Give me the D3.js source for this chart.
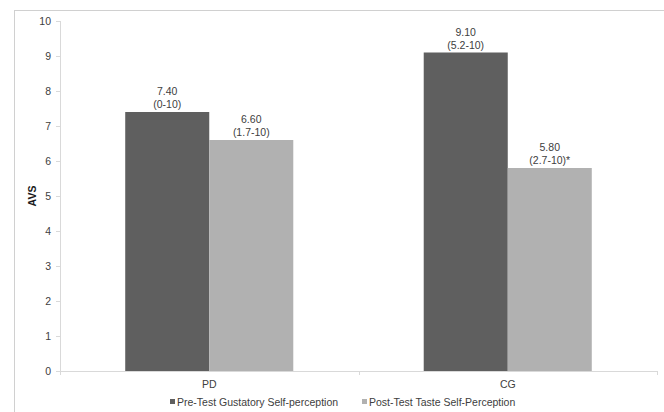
<!DOCTYPE html>
<html><head><meta charset="utf-8">
<script src="https://cdn.jsdelivr.net/npm/d3@7"></script>
<style>html,body{margin:0;padding:0;background:#fff;}svg{display:block;}</style>
</head><body>
<svg id="c" width="664" height="412"></svg>
<script>
const categories = ["PD", "CG"];
const seriesNames = ["Pre-Test Gustatory Self-perception", "Post-Test Taste Self-Perception"];
const preValues = [7.40, 9.10];
const postValues = [6.60, 5.80];
const preRanges = ["(0-10)", "(5.2-10)"];
const postRanges = ["(1.7-10)", "(2.7-10)*"];
const yTicks = [0,1,2,3,4,5,6,7,8,9,10];
const colors = ["#5f5f5f", "#b1b1b1"];

(function(){
const svg = d3.select("#c");
const font = "'Liberation Sans', Arial, sans-serif";
const fs = 10.5;
svg.append("rect").attr("x", 14.5).attr("y", 10.5).attr("width", 700).attr("height", 500)
  .attr("fill", "none").attr("stroke", "#d0d0d0");

const mLeft = 60, mRight = 657, mTop = 21, mBottom = 371;
const x0 = d3.scaleBand().domain(categories).range([mLeft, mRight]).paddingInner(0.437).paddingOuter(0.2185);
const x1 = d3.scaleBand().domain([0,1]).range([0, x0.bandwidth()]);
const y = d3.scaleLinear().domain([0, 10]).range([mBottom, mTop]);

const yAxis = svg.append("g").attr("transform", `translate(${mLeft},0)`)
  .call(d3.axisLeft(y).tickValues(yTicks).tickSize(4).tickPadding(5).tickFormat(d3.format("d")));
yAxis.select(".domain").attr("stroke", "#d9d9d9").attr("d", `M0.5,${mTop}V${mBottom}`);
yAxis.selectAll(".tick line").attr("stroke", "#d9d9d9");
yAxis.selectAll("text").attr("font-family", font).attr("font-size", fs).attr("fill", "#404040");

const data = categories.map((c, i) => ({c, vals: [preValues[i], postValues[i]], ranges: [preRanges[i], postRanges[i]]}));
const g = svg.append("g");
data.forEach(d => {
  d.vals.forEach((v, j) => {
    const bx = x0(d.c) + x1(j);
    g.append("rect").attr("x", bx).attr("y", y(v)).attr("width", x1.bandwidth()).attr("height", y(0) - y(v))
      .attr("fill", colors[j]);
    const cx = bx + x1.bandwidth() / 2;
    g.append("text").attr("x", cx).attr("y", y(v) - 17).attr("text-anchor", "middle")
      .attr("font-family", font).attr("font-size", fs).attr("fill", "#404040").text(v.toFixed(2));
    g.append("text").attr("x", cx).attr("y", y(v) - 4).attr("text-anchor", "middle")
      .attr("font-family", font).attr("font-size", fs).attr("fill", "#404040").text(d.ranges[j]);
  });
});

svg.append("line").attr("x1", mLeft).attr("x2", mRight).attr("y1", mBottom + 0.5).attr("y2", mBottom + 0.5)
  .attr("stroke", "#d9d9d9");
[mLeft, mLeft + (mRight-mLeft)/2, mRight].forEach(tx => {
  svg.append("line").attr("x1", Math.round(tx) + 0.5).attr("x2", Math.round(tx) + 0.5).attr("y1", mBottom).attr("y2", mBottom + 4)
    .attr("stroke", "#d9d9d9");
});
categories.forEach(c => {
  svg.append("text").attr("x", x0(c) + x0.bandwidth()/2).attr("y", mBottom + 17).attr("text-anchor", "middle")
    .attr("font-family", font).attr("font-size", fs).attr("fill", "#404040").text(c);
});

svg.append("text").attr("transform", "translate(36,196) rotate(-90)").attr("text-anchor", "middle")
  .attr("font-family", font).attr("font-size", fs).attr("font-weight", "bold").attr("fill", "#1a1a1a").text("AVS");

const legX = [170, 362];
seriesNames.forEach((s, j) => {
  svg.append("rect").attr("x", legX[j]).attr("y", 399).attr("width", 5).attr("height", 5).attr("fill", colors[j]);
  svg.append("text").attr("x", legX[j] + 7).attr("y", 406).attr("font-family", font).attr("font-size", fs)
    .attr("fill", "#404040").text(s);
});
})();
</script>
</body></html>
